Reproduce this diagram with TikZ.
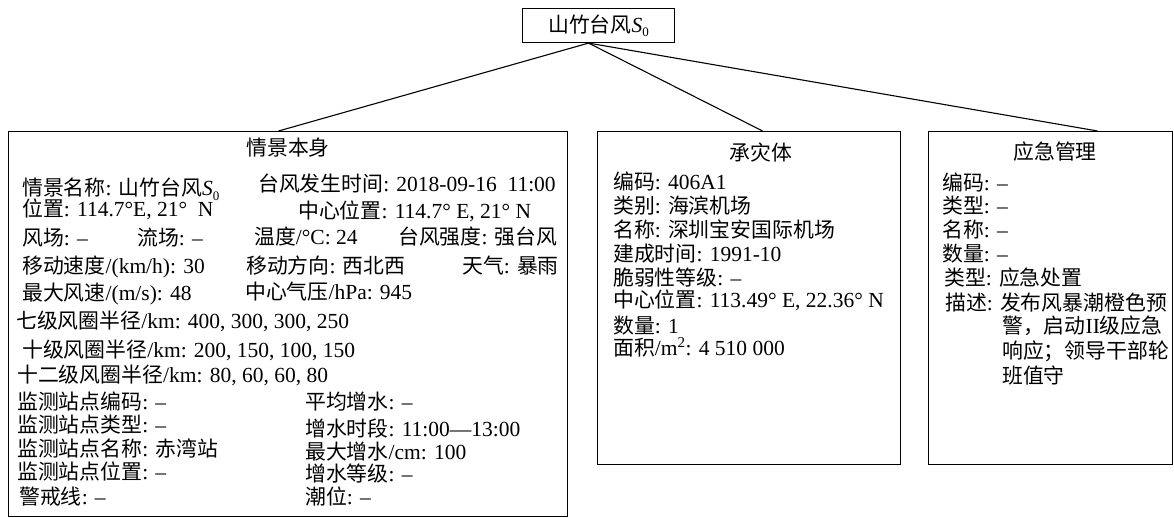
\documentclass[tikz,border=0pt]{standalone}
\usepackage{fontspec}
\setmainfont{Liberation Serif}
\newfontfamily\cjkfont[Scale=0.97]{Noto Sans CJK SC}
\XeTeXinterchartokenstate=1
\newXeTeXintercharclass\CJKcls
\newcount\cjkcnt
\newcommand\cjkrange[2]{\cjkcnt=#1\relax\loop\XeTeXcharclass\cjkcnt=\CJKcls\relax\advance\cjkcnt by 1\relax\ifnum\cjkcnt<#2\relax\repeat}
\cjkrange{"4E00}{"A000}
\cjkrange{"3000}{"3040}
\cjkrange{"FF00}{"FFF0}
\XeTeXinterchartoks 0 \CJKcls = {\begingroup\cjkfont}
\XeTeXinterchartoks 4095 \CJKcls = {\begingroup\cjkfont}
\XeTeXinterchartoks \CJKcls 0 = {\endgroup}
\XeTeXinterchartoks \CJKcls 4095 = {\endgroup}
\newcommand\Szero{\textit{S}\raisebox{-0.45ex}{\fontsize{13}{13}\selectfont 0}}
\begin{document}
\begin{tikzpicture}[x=1pt,y=-1pt,
  box/.style={draw, line width=1.1pt, inner sep=0pt, anchor=north west},
  conn/.style={line width=1.1pt},
  txt/.style={anchor=base west, inner sep=0pt, font=\fontsize{21.5}{26}\selectfont},
  ttl/.style={anchor=base, inner sep=0pt, font=\fontsize{21.5}{26}\selectfont}]
\useasboundingbox (0,0) rectangle (1174,518);
% boxes
\node[box, minimum width=152pt, minimum height=34pt, font=\fontsize{21.5}{26}\selectfont] (top) at (522,8) {山竹台风\Szero};
\node[box, minimum width=559pt, minimum height=385pt] (scene) at (8,131) {};
\node[box, minimum width=303pt, minimum height=333pt] (bearer) at (597,131) {};
\node[box, minimum width=244pt, minimum height=333pt] (mgmt) at (928,131) {};
% connectors
\coordinate (hub) at ([xshift=-10pt]top.south);
\coordinate (e1) at ([xshift=-9.5pt]scene.north);
\coordinate (e2) at ([xshift=13.5pt]bearer.north);
\coordinate (e3) at ([xshift=47pt]mgmt.north);
\draw[conn] (hub) -- (e1);
\draw[conn] (hub) -- (e2);
\draw[conn] (hub) -- (e3);
% scene texts
\node[ttl] (s0) at (288,156) {情景本身};
\node[txt] (s1) at (22,196) {情景名称: 山竹台风\Szero};
\node[txt] (s2) at (258,192) {台风发生时间: 2018-09-16\ \ 11:00};
\node[txt] (s3) at (22,217) {位置: 114.7°E, 21°\ \ N};
\node[txt] (s4) at (298,219) {中心位置: 114.7° E, 21° N};
\node[txt] (s5) at (22,246) {风场: –};
\node[txt] (s6) at (137,246) {流场: –};
\node[txt] (s7) at (254,245) {温度/°C: 24};
\node[txt] (s8) at (398,245) {台风强度: 强台风};
\node[txt] (s9) at (22,274) {移动速度/(km/h): 30};
\node[txt] (s10) at (246,274) {移动方向: 西北西};
\node[txt] (s11) at (462,274) {天气: 暴雨};
\node[txt] (s12) at (22,301) {最大风速/(m/s): 48};
\node[txt] (s13) at (245,300) {中心气压/hPa: 945};
\node[txt] (s14) at (16,328) {七级风圈半径/km: 400, 300, 300, 250};
\node[txt] (s15) at (22,357) {十级风圈半径/km: 200, 150, 100, 150};
\node[txt] (s16) at (17,382) {十二级风圈半径/km: 80, 60, 60, 80};
\node[txt] (s17) at (17,409) {监测站点编码: –};
\node[txt] (s18) at (17,432) {监测站点类型: –};
\node[txt] (s19) at (17,456) {监测站点名称: 赤湾站};
\node[txt] (s20) at (17,479) {监测站点位置: –};
\node[txt] (s21) at (19,504) {警戒线: –};
\node[txt] (s22) at (305,409) {平均增水: –};
\node[txt] (s23) at (305,436) {增水时段: 11:00—13:00};
\node[txt] (s24) at (305,459) {最大增水/cm: 100};
\node[txt] (s25) at (305,481) {增水等级: –};
\node[txt] (s26) at (305,504) {潮位: –};
% bearer texts
\node[ttl] (m0) at (761,161) {承灾体};
\node[txt] (m1) at (613,190) {编码: 406A1};
\node[txt] (m2) at (613,214) {类别: 海滨机场};
\node[txt] (m3) at (613,238) {名称: 深圳宝安国际机场};
\node[txt] (m4) at (613,262) {建成时间: 1991-10};
\node[txt] (m5) at (613,286) {脆弱性等级: –};
\node[txt] (m6) at (613,308) {中心位置: 113.49° E, 22.36° N};
\node[txt] (m7) at (613,333) {数量: 1};
\node[txt] (m8) at (613,355) {面积/m\textsuperscript{2}: 4 510 000};
% management texts
\node[ttl] (r0) at (1055,160) {应急管理};
\node[txt] (r1) at (942,191) {编码: –};
\node[txt] (r2) at (942,214) {类型: –};
\node[txt] (r3) at (942,238) {名称: –};
\node[txt] (r4) at (942,262) {数量: –};
\node[txt] (r5) at (944,286) {类型: 应急处置};
\node[txt] (r6) at (945,310) {描述: \makebox[166pt][s]{发\hfill 布\hfill 风\hfill 暴\hfill 潮\hfill 橙\hfill 色\hfill 预}};
\node[txt] (r7) at (1002,334) {警，启动II级应急};
\node[txt] (r8) at (1002,358) {响应；领导干部轮};
\node[txt] (r9) at (1002,383) {班值守};
\end{tikzpicture}
\end{document}
